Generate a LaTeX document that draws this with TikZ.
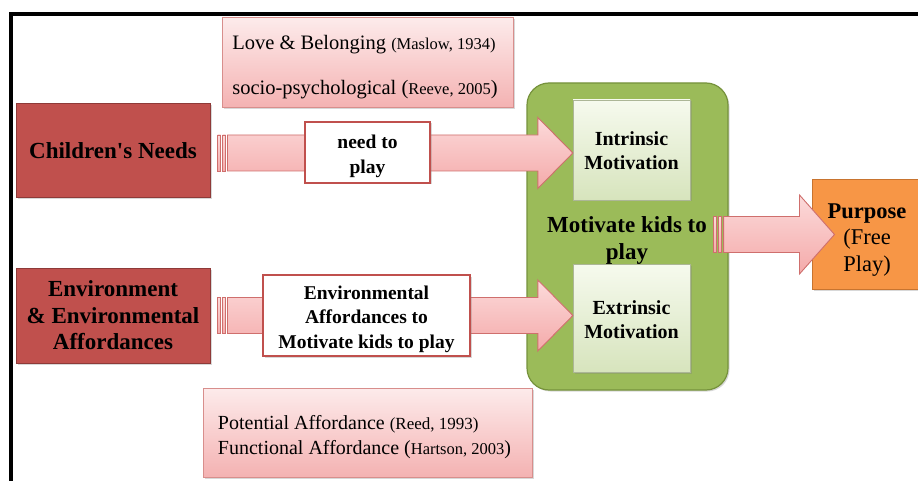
\documentclass[tikz,border=0pt]{standalone}
\usepackage{fontspec}
\setmainfont{Liberation Serif}
\usetikzlibrary{calc,shadows}

\definecolor{needred}{HTML}{C0504D}
\definecolor{needborder}{HTML}{8E3A38}
\definecolor{notetop}{HTML}{FDEBEB}
\definecolor{notebot}{HTML}{F4B2B2}
\definecolor{noteborder}{HTML}{D88E8C}
\definecolor{arrowtop}{HTML}{FCDADA}
\definecolor{arrowbot}{HTML}{F4AAAA}
\definecolor{arrowborder}{HTML}{CF6F6D}
\definecolor{labelborder}{HTML}{C0504D}
\definecolor{groupgreen}{HTML}{9BBB59}
\definecolor{groupborder}{HTML}{76923C}
\definecolor{mottop}{HTML}{F6FAEE}
\definecolor{motbot}{HTML}{D7E4BD}
\definecolor{purposeorange}{HTML}{F79646}
\definecolor{purposeborder}{HTML}{C8742F}

% striped-tail block arrow: #1 tail point, #2 tip point,
% #3 shaft half-width, #4 head half-width, #5 head length
\newcommand{\bararrow}[5]{%
  \path[arrowbody] let \p1=(#1), \p2=(#2) in
    (\x1+10pt,\y1+#3pt) -- (\x2-#5pt,\y1+#3pt) -- (\x2-#5pt,\y1+#4pt) -- (\x2,\y1)
    -- (\x2-#5pt,\y1-#4pt) -- (\x2-#5pt,\y1-#3pt) -- (\x1+10pt,\y1-#3pt) -- cycle;
  \path[arrowbody] let \p1=(#1) in
    (\x1,\y1-#3pt) rectangle (\x1+3pt,\y1+#3pt);
  \path[arrowbody] let \p1=(#1) in
    (\x1+5pt,\y1-#3pt) rectangle (\x1+8pt,\y1+#3pt);
}

\begin{document}
\begin{tikzpicture}[x=1pt,y=-1pt,
  softshadow/.style={drop shadow={opacity=0.3,shadow xshift=1.5pt,shadow yshift=-1.5pt}},
  boxtext/.style={inner sep=0pt,align=center},
  sourcebox/.style={draw=needborder,fill=needred,line width=1pt,inner sep=0pt,
    align=center,softshadow,font=\fontsize{23}{26.5}\selectfont\bfseries},
  notebox/.style={draw=noteborder,top color=notetop,bottom color=notebot,line width=0.8pt,
    inner sep=0pt,softshadow},
  labelbox/.style={draw=labelborder,fill=white,line width=1.6pt,inner sep=0pt,softshadow},
  motbox/.style={draw=motbot!80!black,line width=0.3pt,top color=mottop,bottom color=motbot,
    inner sep=0pt,softshadow},
  groupbox/.style={draw=groupborder,fill=groupgreen,line width=1.2pt,rounded corners=22pt,
    inner sep=0pt,softshadow},
  purposebox/.style={draw=purposeborder,fill=purposeorange,line width=1pt,inner sep=0pt,
    softshadow},
  arrowbody/.style={draw=arrowborder,line width=0.9pt,top color=arrowtop,bottom color=arrowbot},
  frameline/.style={line width=4pt,black}
]
\useasboundingbox (0,0) rectangle (918,481);
\fill[white] (0,0) rectangle (918,481);

% outer frame (top and left edges)
\draw[frameline] (10.5,481) -- (10.5,13.7) -- (918,13.7);

% notes
\node[notebox,minimum width=291pt,minimum height=90pt,
  label={[name=lovetext,boxtext,align=left,xshift=-2.5pt,yshift=-4.5pt,
          font=\fontsize{20.5}{45}\selectfont]center:
    Love \& Belonging {\fontsize{16.5}{20}\selectfont(Maslow, 1934)}\\
    socio-psychological ({\fontsize{16.5}{20}\selectfont Reeve, 2005})}]
  (love) at (367.5,62.5) {};
\node[notebox,minimum width=329pt,minimum height=89pt,
  label={[name=potentialtext,boxtext,align=left,xshift=-3pt,yshift=-5pt,
          font=\fontsize{20}{25}\selectfont]center:
    Potential Affordance {\fontsize{17}{20}\selectfont(Reed, 1993)}\\
    Functional Affordance ({\fontsize{16.5}{20}\selectfont Hartson, 2003})}]
  (potential) at (367.5,432.5) {};

% sources
\node[sourcebox,minimum width=194pt,minimum height=94pt] (needs) at (113,150.5)
  {Children\textquotesingle s Needs};
\node[sourcebox,minimum width=194pt,minimum height=95pt] (env) at (113,315.5)
  {Environment\\ \& Environmental\\ Affordances};

% motivation group
\node[groupbox,minimum width=201pt,minimum height=307pt] (green) at (627.5,236.5) {};
\node[motbox,minimum width=117pt,minimum height=100pt,
  label={[name=intrinsictext,boxtext,yshift=-1pt,
          font=\fontsize{20}{24}\selectfont\bfseries]center:Intrinsic\\ Motivation}]
  (intrinsic) at (631.5,150) {};
\node[motbox,minimum width=117pt,minimum height=108pt,
  label={[name=extrinsictext,boxtext,yshift=-1.5pt,
          font=\fontsize{20}{24}\selectfont\bfseries]center:Extrinsic\\ Motivation}]
  (extrinsic) at (631.5,318) {};
\node[boxtext,font=\fontsize{23}{27}\selectfont\bfseries]
  (motivate) at (627,241) {Motivate kids to\\ play};

% purpose
\node[purposebox,minimum width=110pt,minimum height=109pt,
  label={[name=purposetext,boxtext,yshift=-5.5pt,
          font=\fontsize{22.5}{26.5}\selectfont]center:\textbf{Purpose}\\ (Free\\ Play)}]
  (purpose) at (867,234.5) {};

% block arrows
\bararrow{$(needs.east)+(7,2.5)$}{intrinsic.west}{18}{35.5}{35}
\bararrow{$(env.east)+(7,0)$}{extrinsic.west}{18}{35.5}{35}
\bararrow{$(green.east)+(-15,-2)$}{$(purpose.west)+(23,0)$}{18}{39.5}{35}

% labels on the arrows
\node[labelbox,minimum width=125pt,minimum height=61pt,
  label={[name=needlabeltext,boxtext,yshift=-4pt,
          font=\fontsize{19.5}{24.5}\selectfont\bfseries]center:need to\\ play}]
  (needlabel) at (367.5,152.5) {};
\node[labelbox,minimum width=207pt,minimum height=81pt,
  label={[name=envlabeltext,boxtext,yshift=-3.5pt,
          font=\fontsize{19.5}{24.5}\selectfont\bfseries]center:Environmental\\ Affordances to\\ Motivate kids to play}]
  (envlabel) at (366.5,315.5) {};
\end{tikzpicture}
\end{document}
